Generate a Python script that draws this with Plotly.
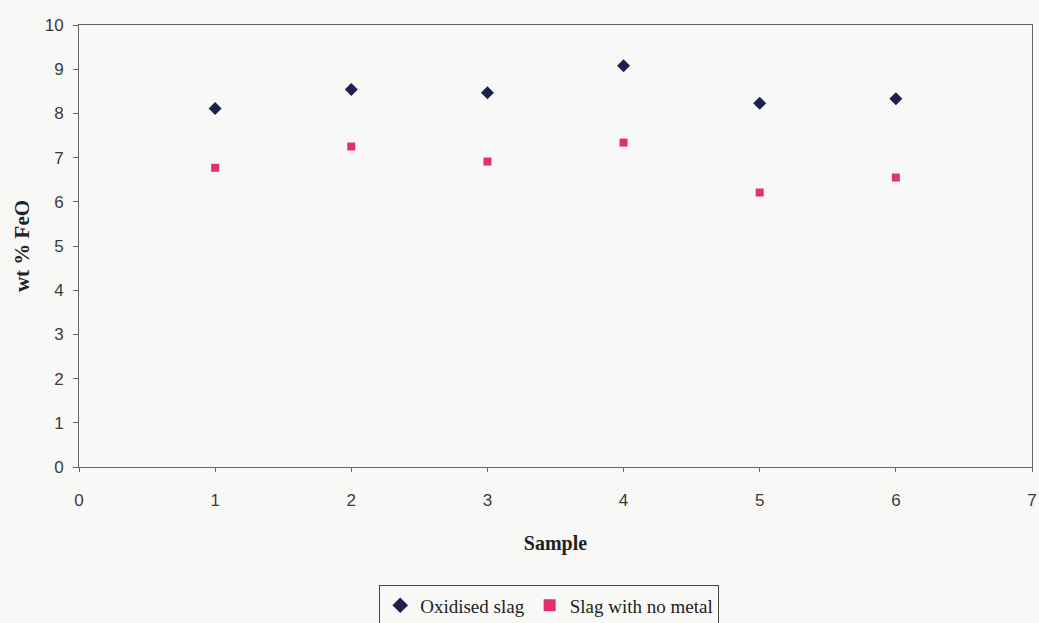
import plotly.graph_objects as go

samples = [1, 2, 3, 4, 5, 6]
oxidised_slag = [8.11, 8.54, 8.47, 9.08, 8.23, 8.33]
slag_no_metal = [6.77, 7.25, 6.91, 7.34, 6.21, 6.55]

x_ticks = [0, 1, 2, 3, 4, 5, 6, 7]
y_ticks = [0, 1, 2, 3, 4, 5, 6, 7, 8, 9, 10]

SERIF = "Liberation Serif"
SANS = "Liberation Sans"

fig = go.Figure()
fig.add_trace(go.Scatter(
    x=samples, y=oxidised_slag, mode="markers", name="Oxidised slag",
    marker=dict(symbol="diamond", size=10, color="#1c2150"),
))
fig.add_trace(go.Scatter(
    x=samples, y=slag_no_metal, mode="markers", name="Slag with no metal",
    marker=dict(symbol="square", size=8, color="#e2306c"),
))

axis_font = dict(family=SANS, size=17, color="#3a3a3a")
fig.update_layout(
    width=1039, height=623,
    margin=dict(l=79, r=7, t=25, b=156, autoexpand=False),
    font=dict(family=SERIF),
    paper_bgcolor="#f8f9f7",
    plot_bgcolor="#f8f9f7",
    showlegend=True,
    legend=dict(
        orientation="h", x=0.315, y=-0.268, xanchor="left", yanchor="top",
        font=dict(family=SERIF, size=19, color="#222222"),
        bordercolor="#444444", borderwidth=1, bgcolor="rgba(0,0,0,0)",
        itemwidth=30, itemsizing="constant",
    ),
    xaxis=dict(
        range=[0, 7], tickvals=x_ticks, showgrid=False, zeroline=False,
        showline=True, linecolor="#666666", linewidth=1, mirror=True,
        ticks="outside", ticklen=4, tickcolor="#666666",
        ticklabelstandoff=14, automargin=False,
        tickfont=axis_font,
        title=dict(text="<b>Sample</b>", standoff=26,
                   font=dict(family=SERIF, size=20, color="#222222")),
    ),
    yaxis=dict(
        range=[0, 10], tickvals=y_ticks, showgrid=False, zeroline=False,
        showline=True, linecolor="#666666", linewidth=1, mirror=True,
        ticks="outside", ticklen=5, tickcolor="#666666",
        ticklabelstandoff=6, automargin=False,
        tickfont=axis_font,
        title=dict(text="<b>wt % FeO</b>", standoff=9,
                   font=dict(family=SERIF, size=21, color="#222222")),
    ),
)

fig.write_html("out.html")
